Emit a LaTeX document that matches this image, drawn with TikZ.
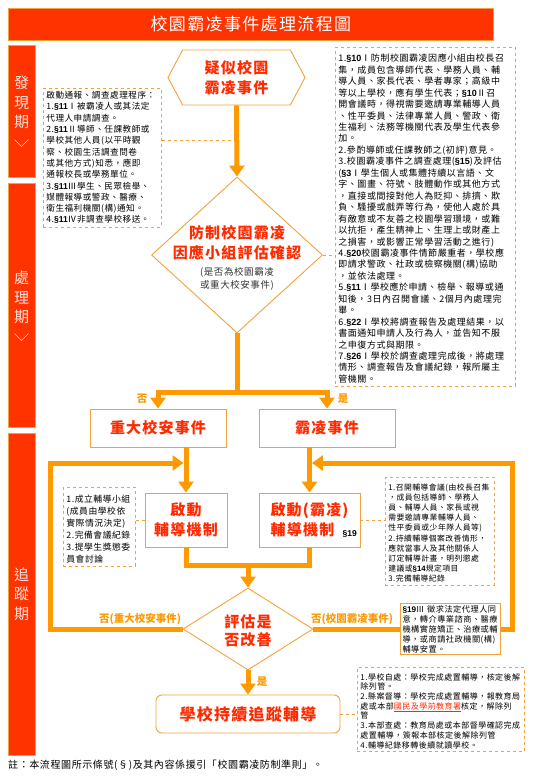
\documentclass[tikz,border=0pt]{standalone}
\usepackage{fontspec}
\setmainfont{Noto Sans CJK TC}
\newfontfamily\notefont[LetterSpace=6]{Noto Sans CJK TC}
\newfontfamily\headfont[LetterSpace=8]{Noto Sans CJK TC}
\newfontfamily\latfont{Liberation Sans}
\usetikzlibrary{arrows.meta,shapes.geometric,shapes.symbols}
\definecolor{bannerred}{HTML}{FF3300}
\definecolor{flow}{HTML}{FF9900}
\definecolor{rim}{HTML}{F2A23C}
\definecolor{hot}{HTML}{FF2A00}
\definecolor{pale}{HTML}{FFE4E0}
\newcommand\itm[1]{\par\hangindent=1.05em\hangafter=1 #1}
\newcommand\art[1]{{\latfont\bfseries #1}}
\tikzset{
  flowline/.style={draw=flow,line width=5pt},
  flowarrow/.style={flowline,-{Triangle[width=15pt,length=11pt]}},
  tie/.style={draw=rim,dashed,line width=0.8pt},
  stage/.style={draw=rim,fill=bannerred,line width=0.8pt,minimum width=27pt,anchor=north west,inner sep=0pt},
  phase/.style={text=pale,align=center,font=\fontsize{15}{19.5}\selectfont,inner sep=0pt},
  chev/.style={draw=pale,line width=0.7pt},
  event/.style={draw=rim,line width=0.9pt,fill=white,text=hot,align=center,inner sep=0pt,
    font=\headfont\bfseries\fontsize{15}{20}\selectfont},
  decide/.style={diamond,draw=rim,line width=0.9pt,inner sep=0pt},
  note/.style={draw=rim,dashed,line width=0.8pt,align=left,inner sep=3pt},
  tag/.style={text=flow,font=\bfseries\fontsize{10.5}{12}\selectfont,inner sep=0pt}
}
\begin{document}
\begin{tikzpicture}[x=1pt,y=-1pt]
  \useasboundingbox (0,0) rectangle (551,783);

  \node[stage,minimum width=485pt,minimum height=32pt,text=white,
    font=\headfont\fontsize{17}{20}\selectfont] (banner) at (8,8) {校園霸凌事件處理流程圖};

  \node[stage,minimum height=132pt] (find) at (8,45) {};
  \node[stage,minimum height=244pt] (handle) at (8,183) {};
  \node[stage,minimum height=322pt] (track) at (8,433) {};
  \node[phase] (findname) at (21.5,102.5) {發\\現\\期};
  \node[phase] (handlename) at (21.5,297.5) {處\\理\\期};
  \node[phase] (trackname) at (21.5,594) {追\\蹤\\期};
  \draw[chev] (14.5,139.5) -- (21.5,146.5) -- (28.5,139.5);
  \draw[chev] (14.5,333.5) -- (21.5,340.5) -- (28.5,333.5);

  \node[event,signal,signal to=west and east,signal pointer angle=124,
    minimum width=137pt,minimum height=55pt] (suspect) at (236.5,77.5) {疑似校園\\霸凌事件};

  \node[decide,minimum width=171pt,minimum height=156pt] (confirm) at (237,255) {};
  \node[text=hot,align=center,inner sep=0pt,font=\headfont\bfseries\fontsize{15}{20}\selectfont]
    (confirmtitle) at (237,243) {防制校園霸凌\\因應小組評估確認};
  \node[align=center,inner sep=0pt,text=black!80,font=\notefont\fontsize{9.5}{13}\selectfont]
    (confirmnote) at (237,279) {(是否為校園霸凌\\或重大校安事件)};

  \node[note,anchor=north west,text width=112pt,font=\notefont\fontsize{8.6}{11.3}\selectfont] (leftnote) at (43,88) {%
    啟動通報、調查處理程序：
    \itm{1.\art{§11}Ⅰ被霸凌人或其法定\\代理人申請調查。}
    \itm{2.\art{§11}Ⅱ導師、任課教師或\\學校其他人員(以平時觀\\察、校園生活調查問卷\\或其他方式)知悉，應即\\通報校長或學務單位。}
    \itm{3.\art{§11}Ⅲ學生、民眾檢舉、\\媒體報導或警政、醫療、\\衛生福利機關(構)通知。}
    \itm{4.\art{§11}Ⅳ非調查學校移送。}};

  \node[note,anchor=north west,text width=174pt,font=\notefont\fontsize{9}{11.45}\selectfont] (rightnote) at (335,47) {%
    \itm{1.\art{§10}Ⅰ防制校園霸凌因應小組由校長召\\集，成員包含導師代表、學務人員、輔\\導人員、家長代表、學者專家；高級中\\等以上學校，應有學生代表；\art{§10}Ⅱ召\\開會議時，得視需要邀請專業輔導人員\\、性平委員、法律專業人員、警政、衛\\生福利、法務等機關代表及學生代表參\\加。}
    \itm{2.參酌導師或任課教師之(初評)意見。}
    \itm{3.校園霸凌事件之調查處理(\art{§15})及評估\\(\art{§3}Ⅰ學生個人或集體持續以言語、文\\字、圖畫、符號、肢體動作或其他方式\\，直接或間接對他人為貶抑、排擠、欺\\負、騷擾或戲弄等行為，使他人處於具\\有敵意或不友善之校園學習環境，或難\\以抗拒，產生精神上、生理上或財產上\\之損害，或影響正常學習活動之進行)}
    \itm{4.\art{§20}校園霸凌事件情節嚴重者，學校應\\即請求警政、社政或檢察機關(構)協助\\，並依法處理。}
    \itm{5.\art{§11}Ⅰ學校應於申請、檢舉、報導或通\\知後，3日內召開會議、2個月內處理完\\畢。}
    \itm{6.\art{§22}Ⅰ學校將調查報告及處理結果，以\\書面通知申請人及行為人，並告知不服\\之申復方式與期限。}
    \itm{7.\art{§26}Ⅰ學校於調查處理完成後，將處理\\情形、調查報告及會議紀錄，報所屬主\\管機關。}};

  \node[event,minimum width=136pt,minimum height=38pt] (serious) at (158,428) {重大校安事件};
  \node[event,minimum width=136pt,minimum height=38pt] (bully) at (327,428) {霸凌事件};
  \node[tag] (nolabel) at (142,399) {否};
  \node[tag] (yeslabel) at (343,399) {是};

  \node[event,minimum width=82pt,minimum height=54pt] (startA) at (186,520) {啟動\\輔導機制};
  \node[event,minimum width=101pt,minimum height=54pt] (startB) at (309.5,520) {啟動(霸凌)\\輔導機制\hspace*{14pt}};
  \node[anchor=east,inner sep=0pt,font=\latfont\bfseries\fontsize{8.5}{9}\selectfont] (artB) at (357,534) {§19};

  \node[note,anchor=north west,text width=66pt,font=\notefont\fontsize{8.8}{12}\selectfont] (noteA) at (63,487) {%
    \itm{1.成立輔導小組\\(成員由學校依\\實際情況決定)}
    \itm{2.完備會議紀錄}
    \itm{3.提學生獎懲委\\員會討論}};

  \node[note,anchor=north west,text width=103pt,font=\notefont\fontsize{7.8}{10.1}\selectfont] (noteB) at (385,477) {%
    \itm{1.召開輔導會議(由校長召集\\，成員包括導師、學務人\\員、輔導人員、家長或視\\需要邀請專業輔導人員、\\性平委員或少年隊人員等)}
    \itm{2.持續輔導個案改善情形，\\應就當事人及其他關係人\\訂定輔導計畫，明列懲處\\建議或\art{§14}規定項目}
    \itm{3.完備輔導紀錄}};

  \node[decide,minimum width=130pt,minimum height=82pt] (review) at (248,629) {};
  \node[text=hot,align=center,inner sep=0pt,font=\headfont\bfseries\fontsize{15}{18}\selectfont]
    (reviewtitle) at (248,631) {評估是\\否改善};

  \node[draw=rim,line width=1pt,anchor=west,align=left,text width=96pt,inner sep=2pt,
    font=\notefont\fontsize{8.2}{10}\selectfont] (art19) at (400,629) {%
    \art{§19}Ⅲ~徵求法定代理人同\\意，轉介專業諮商、醫療\\機構實施矯正、治療或輔\\導，或商請社政機關(構)\\輔導安置。};

  \node[tag] (backA) at (140,619) {否(重大校安事件)};
  \node[tag] (backB) at (352,619) {否(校園霸凌事件)};

  \node[event,rounded corners=6pt,minimum width=184pt,minimum height=38pt,
    font=\headfont\bfseries\fontsize{16}{20}\selectfont] (keep) at (248,714) {學校持續追蹤輔導};
  \node[tag] (yesB) at (262,682) {是};

  \node[note,anchor=north west,text width=161pt,font=\notefont\fontsize{8}{9.7}\selectfont] (noteD) at (357,667) {%
    \itm{1.學校自處：學校完成處置輔導，核定後解\\除列管。}
    \itm{2.縣案督導：學校完成處置輔導，報教育局\\處或本部{\color{hot}\underline{國民及學前教育署}}核定，解除列\\管}
    \itm{3.本部查處：教育局處或本部督學確認完成\\處置輔導，簽報本部核定後解除列管}
    \itm{4.輔導紀錄移轉後續就讀學校。}};

  \node[anchor=west,inner sep=0pt,font=\notefont\fontsize{10}{12}\selectfont] (footer) at (8,765)
    {註：本流程圖所示條號(§)及其內容係援引「校園霸凌防制準則」。};

  \coordinate (tap) at (236.5,140);
  \draw[tie] (tap -| leftnote.east) -- (tap);
  \draw[tie] (confirm.east) -- (confirm.east -| rightnote.west);
  \draw[tie] (startA.west) -- (startA.west -| noteA.east);
  \draw[tie] (startB.east) -- (startB.east -| noteB.west);
  \draw[tie] (keep.east) -- (keep.east -| noteD.west);

  \coordinate (fork) at (237,392);
  \coordinate (join) at (248,565);
  \coordinate (loopL) at (50,463);
  \coordinate (loopR) at (512,463);
  \draw[flowarrow] (suspect.south) -- (confirm.north);
  \draw[flowline] (confirm.south) -- (fork);
  \draw[flowarrow] (fork) -| (serious.north);
  \draw[flowarrow] (fork) -| (bully.north);
  \draw[flowarrow] (serious.south -| startA.north) -- (startA.north);
  \draw[flowarrow] (bully.south -| startB.north) -- (startB.north);
  \draw[flowline] (startA.south) |- (join) -| (startB.south);
  \draw[flowarrow] (join) -- (review.north);
  \draw[flowarrow] (review.west) -| (loopL) -- ([xshift=-2.5pt]loopL -| startA.north);
  \draw[flowline] (review.east) -- (art19.west);
  \draw[flowarrow] (art19.east) -| (loopR) -- ([xshift=2.5pt]loopR -| startB.north);
  \draw[flowarrow] (review.south) -- (keep.north);
\end{tikzpicture}
\end{document}
